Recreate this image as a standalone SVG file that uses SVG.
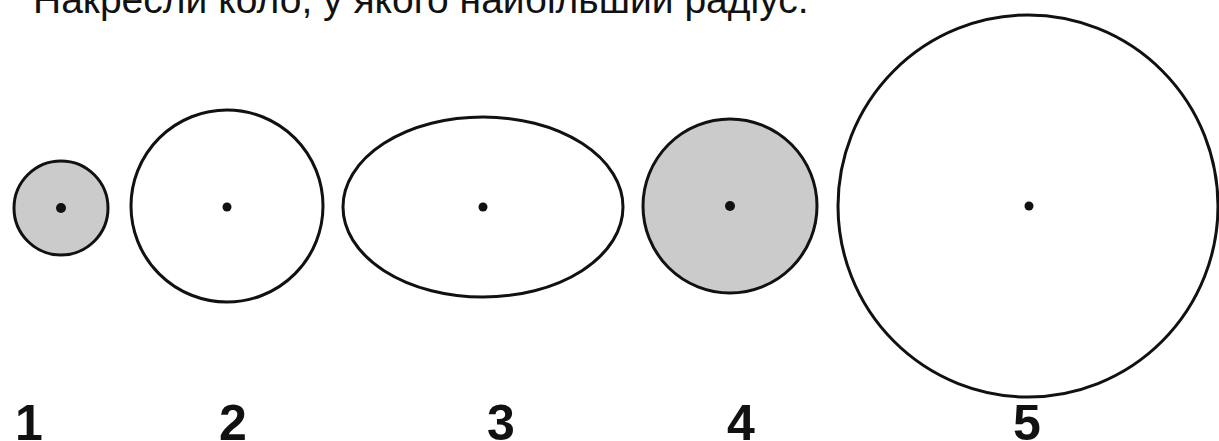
<svg xmlns="http://www.w3.org/2000/svg" width="1219" height="441" viewBox="0 0 1219 441">
<style>
.c{stroke:#111;stroke-width:3;fill:#fff}
.g{fill:#cbcbcb}
.d{fill:#111}
.n{font-family:"Liberation Sans Narrow","Liberation Sans",Arial,sans-serif;font-weight:bold;font-size:50px;fill:#111;text-anchor:middle}
.t{font-family:"Liberation Sans",Arial,sans-serif;font-size:39px;fill:#111}
</style>
<rect width="1219" height="441" fill="#fff"/>
<text class="t" x="33" y="13">Накресли коло, у якого найбільший радіус.</text>
<g id="c1"><circle class="c g" cx="61" cy="208" r="47"/><circle class="d" cx="61" cy="208" r="5"/><text class="n" x="29" y="440">1</text></g>
<g id="c2"><circle class="c" cx="227" cy="206" r="96"/><circle class="d" cx="227" cy="207" r="4.5"/><text class="n" x="233" y="440">2</text></g>
<g id="c3"><ellipse class="c" cx="483" cy="207" rx="140" ry="90"/><circle class="d" cx="483" cy="207" r="4.5"/><text class="n" x="501" y="440">3</text></g>
<g id="c4"><circle class="c g" cx="730" cy="206" r="87"/><circle class="d" cx="730" cy="206" r="5"/><text class="n" x="741" y="440">4</text></g>
<g id="c5"><ellipse class="c" cx="1028" cy="206" rx="190" ry="191"/><circle class="d" cx="1029" cy="206" r="4.5"/><text class="n" x="1027" y="440">5</text></g>
</svg>
